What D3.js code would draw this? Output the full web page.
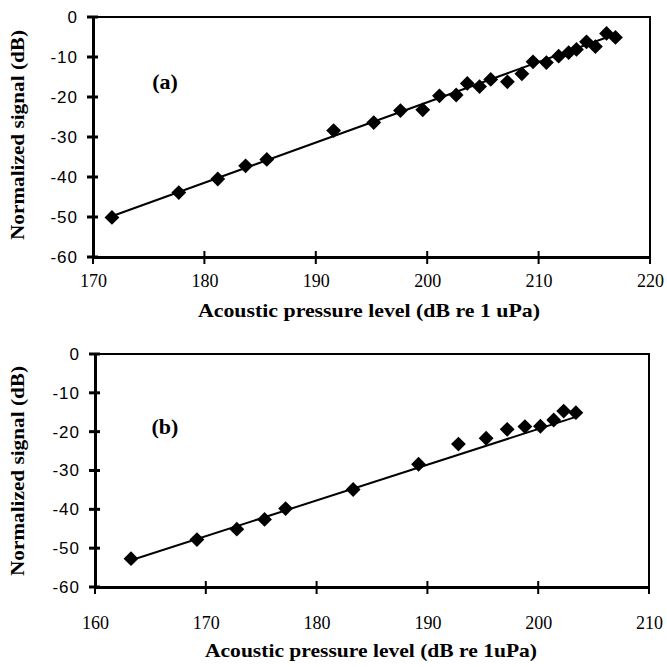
<!DOCTYPE html>
<html>
<head>
<meta charset="utf-8">
<script src="https://cdn.jsdelivr.net/npm/d3@7"></script>
<style>
  body { margin: 0; background: #fff; }
  svg { display: block; }
</style>
</head>
<body>
<div id="chart"></div>
<script>
var levelA  = [171.7, 177.7, 181.2, 183.7, 185.6, 191.6, 195.2, 197.6, 199.6, 201.1, 202.6, 203.6,
               204.7, 205.7, 207.2, 208.5, 209.5, 210.7, 211.8, 212.7, 213.4, 214.3, 215.1, 216.1, 216.9];
var signalA = [-50.1, -43.9, -40.5, -37.2, -35.6, -28.4, -26.4, -23.4, -23.2, -19.7, -19.5, -16.6,
               -17.4, -15.6, -16.2, -14.2, -11.2, -11.4, -9.8, -8.9, -8.1, -6.2, -7.4, -4.1, -5.1];
var fitA = [[171.5, -50.0], [216.9, -4.3]];

// panel (b)
var levelB  = [163.25, 169.2, 172.8, 175.3, 177.2, 183.3, 189.2, 192.8, 195.3, 197.2, 198.8, 200.2, 201.4, 202.3, 203.4];
var signalB = [-52.7, -47.8, -45.1, -42.6, -39.8, -34.9, -28.4, -23.2, -21.7, -19.4, -18.7, -18.6, -17.0, -14.7, -15.1];
var fitB = [[163.25, -53.1], [203.4, -16.2]];

var yTicks = [0, -10, -20, -30, -40, -50, -60];
var xTicksA = [170, 180, 190, 200, 210, 220];
var xTicksB = [160, 170, 180, 190, 200, 210];

var width = 667, height = 667;
var serif = "'Liberation Serif', 'Times New Roman', 'DejaVu Serif', serif";

var svg = d3.select("#chart").append("svg")
    .attr("width", width)
    .attr("height", height);

function drawPanel(opts) {
    var x = d3.scaleLinear().domain(opts.xDomain).range([opts.left, opts.right]);
    var y = d3.scaleLinear().domain([-60, 0]).range([opts.bottom, opts.top]);

    var g = svg.append("g");

    // plot frame
    g.append("rect")
        .attr("x", opts.left).attr("y", opts.top)
        .attr("width", opts.right - opts.left)
        .attr("height", opts.bottom - opts.top)
        .attr("fill", "none")
        .attr("stroke", "#000")
        .attr("stroke-width", 2);

    // y axis with crossing ticks
    var yAxis = d3.axisLeft(y).tickValues(yTicks).tickSize(0)
        .tickFormat(function(d) { return String(d); });
    var ya = g.append("g").attr("transform", "translate(" + opts.left + ",0)").call(yAxis);
    ya.select(".domain").attr("stroke-width", 3);
    ya.selectAll(".tick text")
        .attr("x", -15)
        .style("font-family", "'Liberation Sans', Arial, sans-serif")
        .style("font-size", "17px")
        .style("letter-spacing", "1px")
        .attr("fill", "#000");
    g.selectAll(".ytick").data(yTicks).enter().append("line")
        .attr("x1", opts.left - 6).attr("x2", opts.left + 5)
        .attr("y1", function(d) { return y(d); })
        .attr("y2", function(d) { return y(d); })
        .attr("stroke", "#000").attr("stroke-width", 3);

    // x axis
    var xAxis = d3.axisBottom(x).tickValues(opts.xTicks).tickSize(0)
        .tickFormat(function(d) { return String(d); });
    var xa = g.append("g").attr("transform", "translate(0," + opts.bottom + ")").call(xAxis);
    xa.select(".domain").attr("stroke-width", 3);
    xa.selectAll(".tick text")
        .attr("y", opts.tickGap)
        .attr("dy", 0)
        .style("font-family", serif)
        .style("font-size", "18px")
        .attr("fill", "#000");
    g.selectAll(".xtick").data(opts.xTicks).enter().append("line")
        .attr("x1", function(d) { return x(d); })
        .attr("x2", function(d) { return x(d); })
        .attr("y1", opts.bottom - 6).attr("y2", opts.bottom + 7)
        .attr("stroke", "#000").attr("stroke-width", 2);

    // fitted line
    var line = d3.line()
        .x(function(d) { return x(d[0]); })
        .y(function(d) { return y(d[1]); });
    g.append("path")
        .datum(opts.fit)
        .attr("d", line)
        .attr("fill", "none")
        .attr("stroke", "#000")
        .attr("stroke-width", 2);

    // diamonds
    var pts = opts.xs.map(function(v, i) { return [v, opts.ys[i]]; });
    var sym = d3.symbol().type(d3.symbolSquare).size(110);
    g.selectAll(".pt").data(pts).enter().append("path")
        .attr("d", sym)
        .attr("transform", function(d) {
            return "translate(" + x(d[0]) + "," + y(d[1]) + ") rotate(45)";
        })
        .attr("fill", "#000");

    // panel tag
    g.append("text")
        .attr("x", opts.tagX).attr("y", opts.tagY)
        .attr("text-anchor", "middle")
        .style("font-family", serif)
        .style("font-weight", "bold")
        .style("font-size", "22px")
        .text(opts.tag);

    // axis titles
    g.append("text")
        .attr("x", opts.titleX)
        .attr("y", opts.titleY)
        .attr("text-anchor", "middle")
        .attr("textLength", opts.titleLen)
        .attr("lengthAdjust", "spacingAndGlyphs")
        .style("font-family", serif)
        .style("font-weight", "bold")
        .style("font-size", "19px")
        .text(opts.xTitle);

    g.append("text")
        .attr("transform", "translate(24," + opts.yTitleY + ") rotate(-90)")
        .attr("text-anchor", "middle")
        .attr("textLength", 210)
        .attr("lengthAdjust", "spacingAndGlyphs")
        .style("font-family", serif)
        .style("font-weight", "bold")
        .style("font-size", "19px")
        .text("Normalized signal (dB)");
}

drawPanel({
    xDomain: [170, 220], left: 93, right: 650, top: 17, bottom: 257,
    xTicks: xTicksA, xs: levelA, ys: signalA, fit: fitA, tickGap: 30,
    tag: "(a)", tagX: 165, tagY: 89,
    xTitle: "Acoustic pressure level (dB re 1 uPa)", titleX: 369, titleY: 317, titleLen: 342,
    yTitleY: 135
});

drawPanel({
    xDomain: [160, 210], left: 95, right: 649, top: 354, bottom: 587,
    xTicks: xTicksB, xs: levelB, ys: signalB, fit: fitB, tickGap: 42,
    tag: "(b)", tagX: 165, tagY: 434,
    xTitle: "Acoustic pressure level (dB re 1uPa)", titleX: 371, titleY: 657, titleLen: 332,
    yTitleY: 471
});
</script>
</body>
</html>
